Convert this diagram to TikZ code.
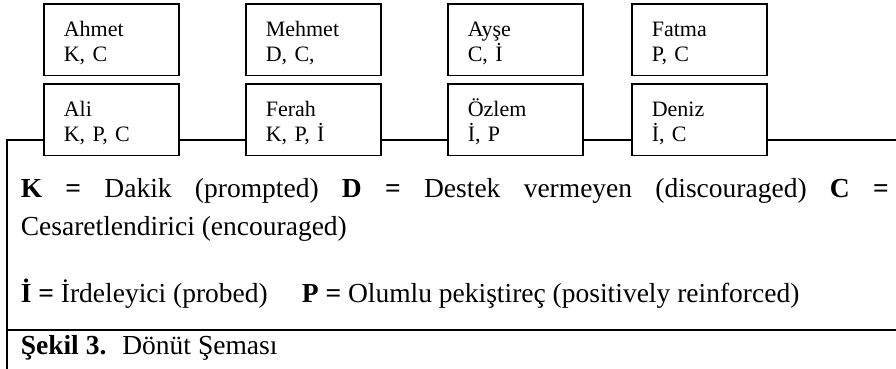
\documentclass[tikz,border=0pt]{standalone}
\usepackage{fontspec}
\setmainfont{Liberation Serif}
\usepackage{tikz}
\tikzset{>=latex}
\tikzset{
  pbox/.style={draw, anchor=north west, minimum width=135pt, minimum height=71.5pt,
    inner xsep=20pt, inner ysep=0pt, text width=95pt, align=left,
    text height=22pt, text depth=29pt, font=\fontsize{22pt}{25pt}\selectfont},
  keytext/.style={anchor=base west, inner sep=0pt, font=\fontsize{27.5pt}{38pt}\selectfont}
}

\begin{document}
\begin{tikzpicture}[x=1pt,y=-1pt,line width=1.6pt]
    \useasboundingbox (0,0) rectangle (896,369);
    \node[pbox] (ahmet) at (43,3) {Ahmet\\K, C};
    \node[pbox] (mehmet) at (245,3) {Mehmet\\D, C,};
    \node[pbox] (ayse) at (447,3) {Ayşe\\C, İ};
    \node[pbox] (fatma) at (631,3) {Fatma\\P, C};
    \node[pbox] (ali) at (43,83) {Ali\\K, P, C};
    \node[pbox] (ferah) at (245,83) {Ferah\\K, P, İ};
    \node[pbox] (ozlem) at (447,83) {Özlem\\İ, P};
    \node[pbox] (deniz) at (631,83) {Deniz\\İ, C};
    \coordinate (lineL) at (7,140);
    \coordinate (lineR) at (896,140);
    \coordinate (frameB) at (7,369);
    \draw (frameB) -- (lineL) -- (lineL -| ali.west);
    \foreach \a/\b in {ali/ferah,ferah/ozlem,ozlem/deniz}
      \draw (lineL -| \a.east) -- (lineL -| \b.west);
    \draw (lineL -| deniz.east) -- (lineR);
    \coordinate (sepL) at (7,330);
    \coordinate (sepR) at (896,330);
    \draw (sepL) -- (sepR);
    \node[keytext, text width=868pt, align=justify] (keyKDC) at (20,197)
      {\textbf{K} \textbf{=} Dakik (prompted) \textbf{D} \textbf{=} Destek vermeyen (discouraged) \textbf{C} \textbf{=}\linebreak Cesaretlendirici (encouraged)};
    \node[keytext] (keyIP) at (20,302)
      {\textbf{İ =} İrdeleyici (probed)\hspace{34pt}\textbf{P =} Olumlu pekiştireç (positively reinforced)};
    \node[keytext] (caption) at (20,354)
      {\textbf{Şekil 3.}\hspace{16pt}Dönüt Şeması};
\end{tikzpicture}
\end{document}
